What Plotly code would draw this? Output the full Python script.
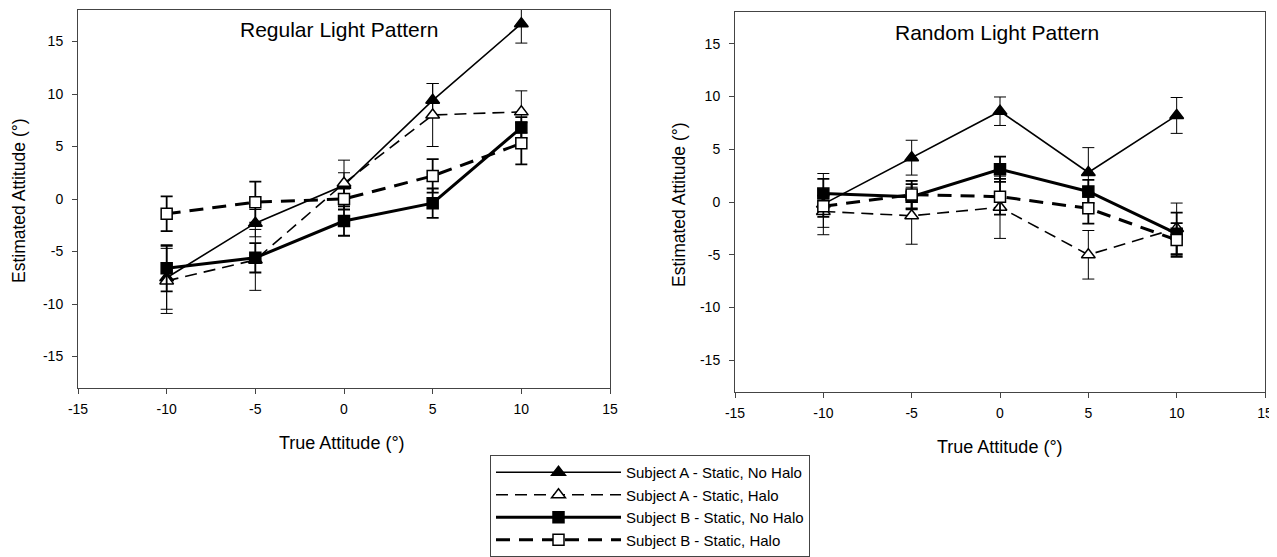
import plotly.graph_objects as go

true_att = [-10, -5, 0, 5, 10]
tick_vals = [-15, -10, -5, 0, 5, 10, 15]
tick_text = ["-15", "-10", "-5", "0", "5", "10", "15"]

# Regular light pattern
reg_a_nohalo = [-7.5, -2.3, 1.3, 9.4, 16.7]
reg_a_nohalo_err = [3.0, 1.3, 1.2, 1.6, 1.85]
reg_a_halo = [-7.8, -5.8, 1.5, 8.0, 8.3]
reg_a_halo_err = [3.1, 2.9, 2.2, 3.0, 2.0]
reg_b_nohalo = [-6.6, -5.6, -2.1, -0.4, 6.8]
reg_b_nohalo_err = [2.2, 1.4, 1.4, 1.4, 1.0]
reg_b_halo = [-1.4, -0.3, 0.0, 2.2, 5.3]
reg_b_halo_err = [1.65, 1.95, 1.0, 1.6, 2.0]

# Random light pattern
rnd_a_nohalo = [-0.2, 4.2, 8.6, 2.8, 8.2]
rnd_a_nohalo_err = [2.9, 1.65, 1.35, 2.35, 1.7]
rnd_a_halo = [-0.9, -1.3, -0.5, -5.0, -2.5]
rnd_a_halo_err = [1.5, 2.7, 2.95, 2.3, 2.4]
rnd_b_nohalo = [0.8, 0.5, 3.1, 1.0, -3.0]
rnd_b_nohalo_err = [1.4, 1.2, 1.2, 1.1, 2.0]
rnd_b_halo = [-0.4, 0.7, 0.5, -0.6, -3.6]
rnd_b_halo_err = [1.0, 1.3, 1.7, 1.45, 1.6]

names = ["Subject A - Static, No Halo", "Subject A - Static, Halo",
         "Subject B - Static, No Halo", "Subject B - Static, Halo"]

styles = [
    dict(symbol="triangle-up", fill="black", width=1.6, dash="solid", ew=1.0),
    dict(symbol="triangle-up", fill="white", width=1.6, dash="12px,7px", ew=1.0),
    dict(symbol="square", fill="black", width=3.0, dash="solid", ew=1.8),
    dict(symbol="square", fill="white", width=3.0, dash="14px,9px", ew=1.8),
]

FONT = "Liberation Sans, Arial, sans-serif"
fig = go.Figure()

panels = [
    ("x", "y", [reg_a_nohalo, reg_a_halo, reg_b_nohalo, reg_b_halo],
     [reg_a_nohalo_err, reg_a_halo_err, reg_b_nohalo_err, reg_b_halo_err]),
    ("x2", "y2", [rnd_a_nohalo, rnd_a_halo, rnd_b_nohalo, rnd_b_halo],
     [rnd_a_nohalo_err, rnd_a_halo_err, rnd_b_nohalo_err, rnd_b_halo_err]),
]

for pi, (xa, ya, series, errs) in enumerate(panels):
    for i, (vals, err) in enumerate(zip(series, errs)):
        st = styles[i]
        sym = st["symbol"]
        fig.add_trace(go.Scatter(
            x=true_att, y=vals, xaxis=xa, yaxis=ya,
            mode="lines+markers",
            name=names[i], showlegend=(pi == 0),
            line=dict(color="black", width=st["width"], dash=st["dash"]),
            marker=dict(symbol=sym, size=12 if "triangle" in sym else 11,
                        color=st["fill"], line=dict(color="black", width=1.5)),
            error_y=dict(type="data", array=err, visible=True, color="black",
                         thickness=st["ew"], width=6),
        ))

def ax_style(standoff):
    return dict(tickvals=tick_vals, ticktext=tick_text,
                showgrid=False, zeroline=False, showline=True, mirror=True,
                linecolor="#444", linewidth=1, ticks="outside", ticklen=5,
                tickcolor="#444", automargin=False, ticklabelstandoff=standoff,
                tickfont=dict(family=FONT, size=14, color="black"))

# page body has an 8px default margin; place everything in page pixel coords
OFF = 8
W, H = 1277 - OFF, 557 - OFF

def px(x):
    return (x - OFF) / W

def py(y):
    return 1 - (y - OFF) / H

fig.update_layout(
    template="none",
    width=W, height=H,
    margin=dict(l=0, r=0, t=0, b=0, pad=0, autoexpand=False),
    paper_bgcolor="white", plot_bgcolor="white",
    font=dict(family=FONT, color="black"),
    xaxis=dict(domain=[px(78), px(610)], anchor="y", range=[-15, 15], **ax_style(3)),
    yaxis=dict(domain=[py(388), py(10)], anchor="x", range=[-18, 18], **ax_style(6)),
    xaxis2=dict(domain=[px(735), px(1265)], anchor="y2", range=[-15, 15], **ax_style(3)),
    yaxis2=dict(domain=[py(392), py(12)], anchor="x2", range=[-18, 18], **ax_style(6)),
    showlegend=True,
    legend=dict(x=px(490), y=py(455), xanchor="left", yanchor="top",
                bordercolor="#444", borderwidth=1, bgcolor="white",
                font=dict(family=FONT, size=15, color="black"),
                itemwidth=125, entrywidth=215, entrywidthmode="pixels",
                tracegroupgap=0, traceorder="normal"),
)

def ann(text, x, y, size, angle=0):
    return dict(text=text, x=px(x), y=py(y), xref="paper", yref="paper",
                xanchor="center", yanchor="middle", showarrow=False,
                textangle=angle, font=dict(family=FONT, size=size, color="black"))

annotations = [
    ann("Regular Light Pattern", 339, 30, 21),
    ann("Random Light Pattern", 997, 33, 21),
    ann("True Attitude (°)", 342, 443, 18),
    ann("True Attitude (°)", 1000, 447, 18),
    ann("Estimated Attitude (°)", 19, 201, 17.5, -90),
    ann("Estimated Attitude (°)", 679, 205, 17.5, -90),
]
fig.update_layout(annotations=annotations)

fig.write_html("out.html")
